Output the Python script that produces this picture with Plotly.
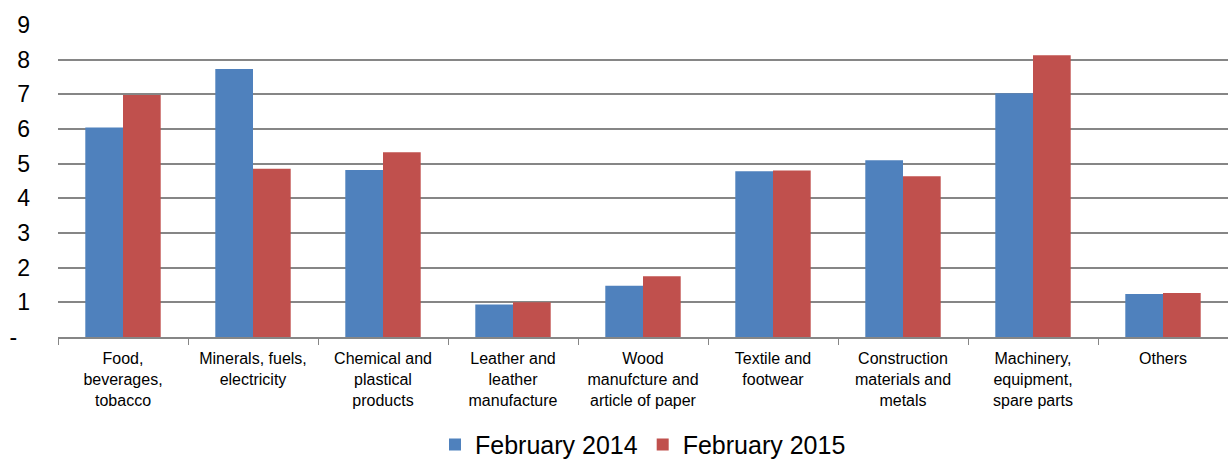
import plotly.graph_objects as go

categories = [
    "Food,<br>beverages,<br>tobacco",
    "Minerals, fuels,<br>electricity",
    "Chemical and<br>plastical<br>products",
    "Leather and<br>leather<br>manufacture",
    "Wood<br>manufcture and<br>article of paper",
    "Textile and<br>footwear",
    "Construction<br>materials and<br>metals",
    "Machinery,<br>equipment,<br>spare parts",
    "Others",
]
feb_2014 = [6.04, 7.73, 4.82, 0.94, 1.48, 4.78, 5.10, 7.03, 1.24]
feb_2015 = [6.98, 4.85, 5.33, 1.00, 1.75, 4.80, 4.64, 8.13, 1.27]
y_tickvals = [0, 1, 2, 3, 4, 5, 6, 7, 8, 9]
y_ticktext = ["-\u00a0\u00a0", "1", "2", "3", "4", "5", "6", "7", "8", "9"]

fig = go.Figure()
fig.add_trace(go.Bar(x=categories, y=feb_2014, name="February 2014",
                     marker=dict(color="#4F81BD", line=dict(width=0))))
fig.add_trace(go.Bar(x=categories, y=feb_2015, name="February 2015",
                     marker=dict(color="#C0504D", line=dict(width=0))))

fig.update_layout(
    width=1228, height=462,
    margin=dict(l=58, r=0, t=25, b=125, autoexpand=False),
    paper_bgcolor="white", plot_bgcolor="white",
    barmode="group", bargap=0.42, bargroupgap=0,
    font=dict(family="Liberation Sans, Arial, sans-serif", color="black"),
    legend=dict(orientation="h", x=0.5, xanchor="center", y=-0.345, yanchor="middle",
                font=dict(size=25), traceorder="normal", itemwidth=30),
    showlegend=True,
)
fig.update_xaxes(
    automargin=False,
    showline=True, linecolor="#868686", linewidth=1.5,
    ticks="outside", tickson="boundaries", ticklen=6, tickcolor="#868686",
    tickfont=dict(size=16), tickangle=0, showgrid=False,
    ticklabelstandoff=6,
)
fig.update_yaxes(
    automargin=False,
    range=[0, 9], tickvals=y_tickvals, ticktext=y_ticktext,
    showgrid=True, gridcolor="#868686", gridwidth=1.5,
    zeroline=False, showline=False, ticks="", tickfont=dict(size=23),
    ticklabelstandoff=27,
)

fig.write_html(
    "out.html",
    config={"displayModeBar": False},
    post_script="document.body.style.margin='0';document.body.style.overflow='hidden';",
)
